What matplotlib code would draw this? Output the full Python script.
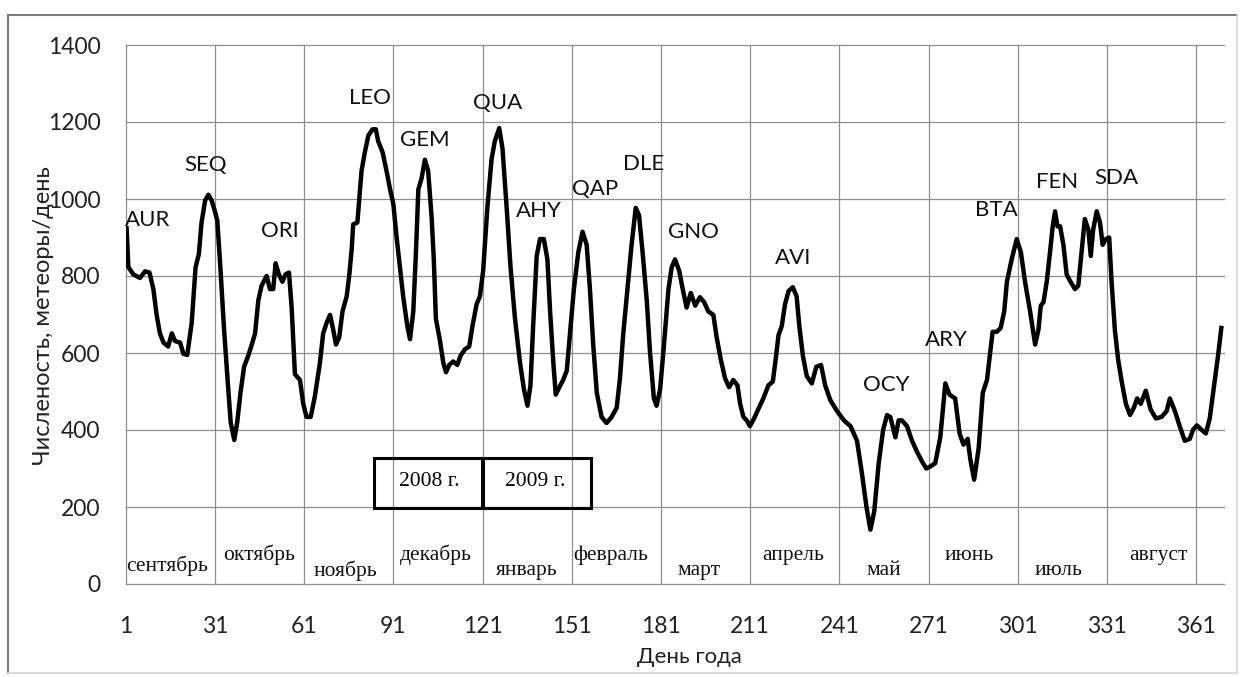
import matplotlib
matplotlib.use("Agg")
import matplotlib.pyplot as plt
from matplotlib.patches import Rectangle
from matplotlib.lines import Line2D

# ---- data ----
days = [1.3, 1.9, 3.6, 5.8, 7.5, 9, 10.3, 11.4, 12.5, 13.7,
        15.3, 16.5, 17.6, 19.3, 20.4, 21.7, 23.2, 24.5, 25.6, 26.5,
        27.7, 28.8, 29.9, 31, 31.8, 32.9, 34, 35.3, 36.3, 37.5,
        38.5, 39.6, 40.8, 42.2, 43.4, 44.5, 45.6, 46.7, 48.4, 49.5,
        50.6, 51.4, 52.5, 53.7, 54.7, 55.9, 56.8, 57.9, 59.6, 60.7,
        61.8, 63.2, 64.6, 66.3, 67.4, 68.6, 69.7, 70.8, 71.7, 72.8,
        73.9, 75.3, 76.2, 77, 77.5, 78.9, 80.3, 81.4, 82.6, 84,
        85.1, 85.9, 87.4, 88.7, 89.9, 91, 92.1, 93.2, 94.3, 95.7,
        96.6, 97.7, 98.6, 99.4, 100.5, 101.6, 102.7, 103.9, 104.6, 105.3,
        106.7, 107.8, 108.7, 109.8, 111.1, 112.5, 113.6, 115.1, 116.5, 117.6,
        119, 120.1,
        121.2, 122.6, 124, 125.1, 126.6, 127.7, 129.1, 130.4, 131.9, 133.6,
        134.9, 136.1, 137.1, 138, 139.2, 140.3, 141.6, 142.8, 143.7, 144.8,
        145.6, 146.8, 148.1, 149.3, 150.4, 151.7, 153.2, 154.6, 156, 157.1,
        158.2, 159.4, 161, 162.7, 164.4, 166.1, 167.2, 168.3, 169.7, 171.1,
        172.5, 173.6, 174.8, 176.2, 177.3, 178.6, 179.5, 180.7, 182, 183.5,
        184.6, 185.7, 187.1, 188.3, 189.6, 191, 192.5, 194.1, 195.5, 196.9,
        198.6, 199.7, 201.1, 202.5, 203.9, 205.3, 206.7, 207.6, 208.7, 209.8,
        210.9, 212.3, 213.7, 215.4, 217.1, 218.6, 219.7, 220.5, 221.6, 222.7,
        223.9, 225.3, 226.6, 227.5, 228.7, 230, 231.7, 233.2, 234.8, 236.2,
        237.9,
        240.2, 242.5, 244.7, 246.9, 248.6, 250.1, 251.4, 252.7, 254.2, 255.7,
        257, 258.1, 259.8, 260.9, 262, 263.7, 265.4, 267.1, 268.7, 270.2,
        271.5, 273.2, 274.9, 276.6, 278, 279.9, 281.4, 282.7, 284.1, 285,
        286.3, 287.8, 289.2, 290.6, 291.7, 292.5, 293.9, 295.2, 296.4, 297.3,
        298.9, 300.6, 302, 303.4, 305.1, 306.8, 307.9, 308.7, 309.6, 310.7,
        311.8, 312.7, 313.5, 314.3, 315.2, 316.3, 317.4, 318.7, 320.2, 321.3,
        322.4, 323.5, 324.7, 325.5, 326.3, 327.5, 328.6, 329.5, 330.6, 331.7,
        332.5, 333.6, 334.7, 335.9, 337.3, 338.7, 340, 341.1, 342.3, 344,
        345.6, 347.4, 349.3, 351, 352.1, 353.8, 355.4, 357.1, 358.8, 359.9,
        361.2, 362.7, 364.2, 365.5, 366.8, 368.3, 369.4]

counts = [924, 823, 804, 795, 812, 809, 766, 699, 651, 627,
          617, 651, 631, 627, 598, 595, 679, 823, 857, 939,
          996, 1011, 996, 968, 944, 814, 670, 526, 420, 374,
          420, 497, 564, 593, 622, 651, 737, 775, 800, 766,
          766, 833, 804, 785, 804, 809, 718, 545, 530, 468,
          434, 434, 487, 574, 651, 679, 699, 660, 622, 641,
          708, 747, 804, 871, 934, 939, 1073, 1121, 1165, 1181,
          1181, 1150, 1121, 1073, 1025, 987, 900, 823, 747, 670,
          636, 708, 862, 1025, 1054, 1102, 1073, 948, 843, 689,
          631, 574, 550, 569, 578, 569, 593, 610, 617, 670,
          727, 747,
          814, 977, 1102, 1150, 1184, 1131, 977, 823, 689, 574,
          506, 463, 516, 670, 852, 896, 896, 843, 708, 574,
          492, 511, 530, 554, 650, 766, 862, 915, 881, 766,
          622, 497, 434, 418, 434, 458, 535, 650, 766, 881,
          977, 958, 862, 737, 602, 482, 463, 506, 622, 766,
          823, 843, 814, 766, 718, 756, 723, 745, 732, 708,
          699, 641, 583, 535, 511, 530, 516, 468, 434, 425,
          410, 430, 454, 482, 516, 526, 593, 646, 670, 727,
          761, 771, 747, 670, 593, 540, 521, 564, 569, 516,
          478,
          449, 425, 410, 372, 285, 199, 141, 189, 314, 401,
          439, 434, 381, 425, 425, 410, 372, 343, 319, 300,
          305, 314, 381, 521, 492, 482, 391, 362, 377, 324,
          271, 353, 497, 530, 602, 655, 655, 665, 708, 785,
          843, 896, 862, 785, 708, 622, 660, 723, 732, 785,
          862, 929, 968, 929, 929, 881, 804, 785, 766, 775,
          862, 948, 920, 852, 920, 968, 939, 881, 896, 900,
          785, 660, 583, 526, 468, 439, 458, 482, 468, 502,
          454, 430, 434, 449, 482, 449, 410, 372, 377, 401,
          412, 401, 391, 430, 506, 593, 665]

x_ticks = [1, 31, 61, 91, 121, 151, 181, 211, 241, 271, 301, 331, 361]
y_ticks = [0, 200, 400, 600, 800, 1000, 1200, 1400]

showers = ["AUR", "SEQ", "ORI", "LEO", "GEM", "QUA", "AHY", "QAP",
           "DLE", "GNO", "AVI", "OCY", "ARY", "BTA", "FEN", "SDA"]
shower_pos = [(8.5, 945), (27.7, 1088), (52.9, 917), (83, 1262), (101.5, 1153),
              (126, 1249), (140, 969), (158.9, 1026), (175, 1091), (191.9, 914),
              (225.3, 847), (256.9, 517), (277, 634), (293.6, 971), (314, 1044),
              (334.2, 1055)]

months = ["сентябрь", "октябрь", "ноябрь", "декабрь", "январь", "февраль",
          "март", "апрель", "май", "июнь", "июль", "август"]
month_pos = [(14.9, 47), (45.8, 75), (75, 34), (105.2, 75), (136, 34), (164.2, 75),
             (193.8, 34), (225.3, 75), (255.8, 34), (284.7, 75), (314.6, 34), (348.2, 75)]

years = ["2008 г.", "2009 г."]

# ---- figure ----
W, H = 1247, 677
fig = plt.figure(figsize=(W / 100, H / 100), dpi=100)
fig.patch.set_facecolor("white")

ax = fig.add_axes([125.7 / W, (H - 584) / H, (1224 - 125.7) / W, (584 - 45) / H])
ax.set_xlim(1, 370.3)
ax.set_ylim(0, 1400)
for s in ax.spines.values():
    s.set_visible(False)

ax.set_xticks(x_ticks)
ax.set_yticks(y_ticks)
ax.tick_params(axis="both", length=0, labelsize=16.5, colors="#222222")
ax.tick_params(axis="x", pad=23)
ax.tick_params(axis="y", pad=18)
for lab in ax.get_xticklabels() + ax.get_yticklabels():
    lab.set_family("Lato")
ax.grid(True, color="#8f8f8f", lw=0.9)
ax.set_axisbelow(True)
for gl in ax.get_xgridlines() + ax.get_ygridlines():
    gl.set_clip_on(False)

ax.plot(days, counts, color="black", lw=3.2, solid_joinstyle="round", zorder=3)

for name, (xd, yd) in zip(showers, shower_pos):
    ax.text(xd, yd, name, ha="center", va="center", fontsize=16,
            family="Lato", color="#111111", zorder=4)

for name, (xd, yd) in zip(months, month_pos):
    ax.text(xd, yd, name, ha="center", va="center", fontsize=15.5,
            family="Liberation Serif", color="#111111", zorder=4)

# year boxes
ax.add_patch(Rectangle((84.4, 197), 120.7 - 84.4, 326 - 197, fill=False,
                       ec="black", lw=2.2, zorder=4))
ax.add_patch(Rectangle((121.3, 197), 157.6 - 121.3, 326 - 197, fill=False,
                       ec="black", lw=2.2, zorder=4))
ax.text(103.2, 265, years[0], ha="center", va="center", fontsize=15.5,
        family="Liberation Serif", zorder=5)
ax.text(138.8, 265, years[1], ha="center", va="center", fontsize=15.5,
        family="Liberation Serif", zorder=5)

# axis titles
fig.text(44 / W, 1 - 316 / H, "Численость, метеоры/день", rotation=90,
         ha="center", va="center", fontsize=17, family="Lato", color="#222222")
fig.text(689 / W, 1 - 657 / H, "День года", ha="center", va="center",
         fontsize=16, family="Lato", color="#222222")

# outer frame
fig.add_artist(Line2D([8 / W, 1237 / W], [1 - 15 / H, 1 - 15 / H],
                      transform=fig.transFigure, color="#7a7a7a", lw=1.5))
fig.add_artist(Line2D([8 / W, 8 / W], [1 - 15 / H, 1 - 673 / H],
                      transform=fig.transFigure, color="#7a7a7a", lw=1.5))
fig.add_artist(Line2D([1237 / W, 1237 / W], [1 - 15 / H, 1 - 673 / H],
                      transform=fig.transFigure, color="#d8d8d8", lw=1.2))
fig.add_artist(Line2D([8 / W, 1237 / W], [1 - 673 / H, 1 - 673 / H],
                      transform=fig.transFigure, color="#d8d8d8", lw=1.2))

fig.savefig("out.png", dpi=100, facecolor="white")
